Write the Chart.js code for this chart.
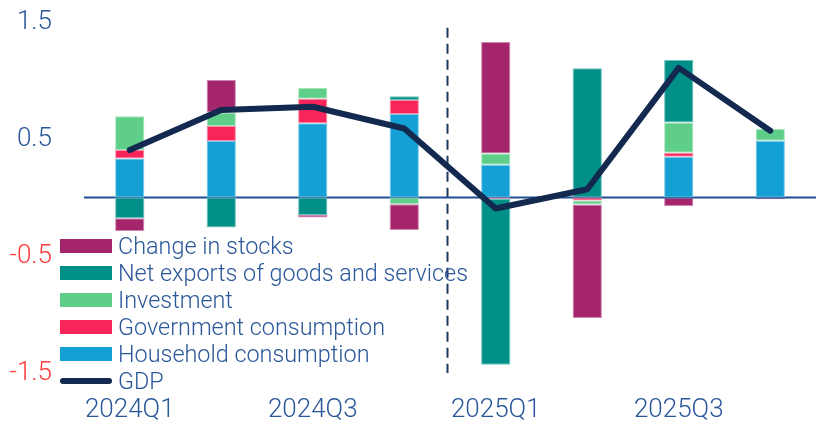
<!DOCTYPE html>
<html>
<head>
<meta charset="utf-8">
<script src="https://cdn.jsdelivr.net/npm/chart.js@4.4.1/dist/chart.umd.min.js"></script>
<style>
  body { margin: 0; background: #fff; }
  #wrap { position: relative; width: 821px; height: 428px; }
  #legend { position: absolute; left: 58px; top: 232px; font-family: Roboto, "Liberation Sans", sans-serif; font-weight: 300; font-size: 23.4px; color: #2a579a; }
  .row { display: flex; align-items: center; height: 27px; white-space: nowrap; }
  .box { width: 52px; height: 14px; margin: 0 6px 0 2px; }
  .ln { width: 52px; height: 6px; border-radius: 3px; margin: 0 6px 0 2px; }
</style>
</head>
<body>
<div id="wrap">
  <canvas id="contrib" width="821" height="428"></canvas>
  <div id="legend"></div>
</div>
<script>
// Quarters and contributions to GDP growth (percentage points)
const quarters = ['2024Q1', '2024Q2', '2024Q3', '2024Q4', '2025Q1', '2025Q2', '2025Q3', '2025Q4'];
const household = [0.334, 0.483, 0.634, 0.714, 0.279, 0.0, 0.348, 0.485];
const government = [0.071, 0.129, 0.211, 0.12, -0.01, -0.025, 0.034, 0.0];
const investment = [0.289, 0.114, 0.094, -0.057, 0.098, -0.035, 0.26, 0.103];
const netExports = [-0.177, -0.257, -0.149, 0.032, -1.42, 1.105, 0.534, 0.0];
const stocks = [-0.109, 0.278, -0.022, -0.22, 0.951, -0.97, -0.072, -0.015];
const gdp = [0.405, 0.748, 0.776, 0.59, -0.094, 0.071, 1.108, 0.571];
const yTicks = [-1.5, -0.5, 0.5, 1.5];
const forecastFrom = 3.47; // dashed separator between actuals and forecast

const BLUE_TEXT = '#2a579a';
const RED_TEXT = '#ff3a3a';
const TICK_FONT = { family: 'Roboto', weight: 300, size: 26 };

const series = [
  { label: 'Household consumption', data: household, color: '#14a0d4', edge: '#7fcbe8' },
  { label: 'Government consumption', data: government, color: '#f72559', edge: '#fb8aa6' },
  { label: 'Investment', data: investment, color: '#5fce88', edge: '#a9e6bf' },
  { label: 'Net exports of goods and services', data: netExports, color: '#009088', edge: '#6cc3be' },
  { label: 'Change in stocks', data: stocks, color: '#a4256c', edge: '#cf86ae' }
];

// zero line over the bars, dashed divider behind them
const guides = {
  id: 'guides',
  beforeDatasetsDraw(chart) {
    const { ctx, scales: { x, y } } = chart;
    const px = Math.round(x.getPixelForValue(forecastFrom)) + 0.5;
    ctx.save();
    ctx.strokeStyle = '#1f3a63';
    ctx.lineWidth = 2;
    ctx.setLineDash([10, 6]);
    ctx.beginPath();
    ctx.moveTo(px, y.getPixelForValue(1.45));
    ctx.lineTo(px, y.getPixelForValue(-1.5));
    ctx.stroke();
    ctx.restore();
  },
  afterDatasetDraw(chart, args) {
    if (args.index !== series.length - 1) return;
    const { ctx, chartArea, scales: { y } } = chart;
    const py = y.getPixelForValue(0);
    ctx.save();
    ctx.strokeStyle = '#1d4f93';
    ctx.lineWidth = 2;
    ctx.beginPath();
    ctx.moveTo(chartArea.left, py);
    ctx.lineTo(chartArea.right, py);
    ctx.stroke();
    ctx.restore();
  }
};

const datasets = series.map(s => ({
  type: 'bar',
  label: s.label,
  data: s.data,
  backgroundColor: s.color,
  borderColor: s.edge,
  borderWidth: 1,
  borderSkipped: false,
  barPercentage: 0.8,
  categoryPercentage: 0.4,
  stack: 'contrib',
  order: 1
}));

datasets.push({
  type: 'line',
  label: 'GDP',
  data: gdp,
  borderColor: '#13294f',
  borderWidth: 6,
  borderCapStyle: 'round',
  borderJoinStyle: 'round',
  pointRadius: 0,
  tension: 0,
  stack: 'gdp',
  order: 0
});

new Chart(document.getElementById('contrib'), {
  data: { labels: quarters, datasets: datasets },
  options: {
    responsive: false,
    animation: false,
    layout: { padding: { top: 0, right: 5, left: 0, bottom: 0 } },
    plugins: { legend: { display: false }, tooltip: { enabled: false } },
    scales: {
      x: {
        stacked: true,
        grid: { display: false, drawTicks: false },
        border: { display: false },
        ticks: {
          autoSkip: false,
          maxRotation: 0,
          padding: 22,
          color: BLUE_TEXT,
          font: TICK_FONT,
          callback: (v, i) => (i % 2 === 0 ? quarters[i] : '')
        },
        afterFit: s => { s.height = 55; }
      },
      y: {
        stacked: true,
        min: -1.5,
        max: 1.5,
        afterBuildTicks: s => { s.ticks = yTicks.map(v => ({ value: v })); },
        grid: { display: false, drawTicks: false },
        border: { display: false },
        ticks: {
          padding: 32,
          color: c => (c.tick.value < 0 ? RED_TEXT : BLUE_TEXT),
          font: TICK_FONT,
          callback: v => String(v)
        },
        afterFit: s => {
          s.width = 84;
          s.paddingTop = 22;
          s.paddingBottom = 0;
        }
      }
    }
  },
  plugins: [guides]
});

// legend, top entry is the top of the stack
const legend = document.getElementById('legend');
series.slice().reverse().forEach(s => {
  const row = document.createElement('div');
  row.className = 'row';
  row.innerHTML = `<span class="box" style="background:${s.color}"></span><span>${s.label}</span>`;
  legend.appendChild(row);
});
const gdpRow = document.createElement('div');
gdpRow.className = 'row';
gdpRow.innerHTML = '<span class="ln" style="background:#13294f"></span><span>GDP</span>';
legend.appendChild(gdpRow);
</script>
</body>
</html>
